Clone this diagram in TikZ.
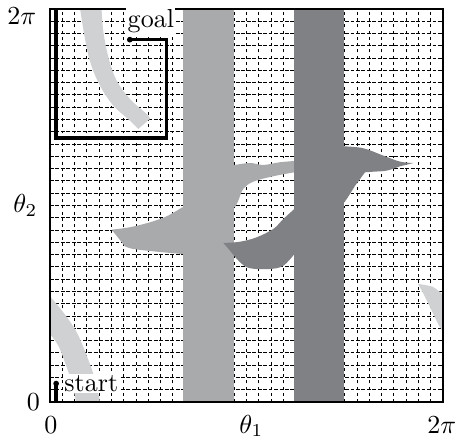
\documentclass[tikz,border=0pt]{standalone}
\usepackage{amsmath,amssymb}
\usepackage{tikz}
\usetikzlibrary{positioning}
\definecolor{obstlight}{RGB}{208,209,211}
\definecolor{obstmid}{RGB}{169,170,172}
\definecolor{obstdark}{RGB}{128,129,133}

\begin{document}
\begin{tikzpicture}[x=4.72pt, y=4.72pt,
  hgrid/.style={line width=0.35pt, dash pattern=on 1.5pt off 0.6pt},
  vgrid/.style={line width=0.35pt, dash pattern=on 1.1pt off 1.3pt},
  route/.style={line width=1.3pt},
  tag/.style={fill=white, inner sep=0.5pt},
  blob/.style={smooth, tension=0.6}]
  \useasboundingbox (-4.07,-2.85) rectangle (33.22,32.73);
  \foreach \k in {1,...,31} {
    \draw[hgrid] (0,\k) -- (32,\k);
    \draw[vgrid] (\k,0) -- (\k,32);
  }
  \fill[obstlight] plot[blob] coordinates {(2.45,32)(2.85,29.56)(3.3,27.6)(4.07,25.76)(5.16,24.13)(6.51,22.91)(7.19,22.23)}
    -- plot[blob] coordinates {(8.14,23.05)(7.87,23.45)(6.51,24.67)(5.43,26.16)(4.8,27.9)(4.35,30.1)(4.2,32)} -- cycle;
  \fill[obstlight] plot[blob] coordinates {(0,8.6)(1.08,7.3)(2.17,5.68)(2.99,3.77)(3.66,1.87)(4.07,0)}
    -- plot[blob] coordinates {(2.12,0)(1.77,1.6)(1.22,3.23)(0.68,4.58)(0,5.54)} -- cycle;
  \fill[obstlight] plot[blob] coordinates {(29.97,9.61)(31.19,9.36)(32,8.71)} -- (32,5.7)
    -- plot[blob] coordinates {(31.6,6.35)(30.62,8.39)(29.97,9.61)} -- cycle;
  \fill[obstmid] (10.8,0) rectangle (15,32);
  \fill[obstmid] (11,15.85) -- plot[blob] coordinates {(10.77,15.85)(9.5,15.12)(8.14,14.63)(6.51,14.23)(5.02,14.03)}
    -- plot[blob] coordinates {(6.1,12.68)(6.78,12.46)(8.69,12.24)(10.77,12.05)} -- (11,12.05) -- cycle;
  \fill[obstmid] (14.8,19.3) -- plot[blob] coordinates {(15.07,19.3)(16.29,19.46)(17.37,19.3)(18.73,19.52)(20.3,19.65)} -- (20.3,18.7)
    -- plot[blob] coordinates {(19.9,18.7)(18.18,18.38)(16.56,17.94)(15.74,17.35)(15.33,16.39)(15.07,15.86)} -- (14.8,15.86) -- cycle;
  \fill[obstdark] (19.9,0) rectangle (23.9,32);
  \fill[obstdark] (23.5,20.82) -- plot[blob] coordinates {(23.83,20.82)(25.5,20.66)(27.14,20.06)(28.5,19.57)(29.59,19.46)}
    -- plot[blob] coordinates {(28.5,19.19)(27.42,18.84)(26.33,18.75)(25.65,18.7)}
    -- plot[blob] coordinates {(24.84,17.61)(24.16,16.53)(23.83,16.12)} -- (23.5,16.12) -- cycle;
  \fill[obstdark] (20.3,15.72) -- plot[blob] coordinates {(19.9,15.72)(19.0,14.9)(18.18,14.09)(16.83,13.41)(15.47,13.05)(14.11,12.95)}
    -- plot[blob] coordinates {(14.66,12.32)(15.47,11.38)(16.29,10.89)(17.92,10.83)(19.0,11.1)(19.9,12.05)} -- (20.3,12.05) -- cycle;
  \draw[line width=0.75pt] (0,0) rectangle (32,32);

  \coordinate (start) at (0.5,1.5);
  \coordinate (goal) at (6.5,29.5);
  \coordinate (wrapbot) at (0.5,0);
  \coordinate (wraptop) at (0.5,32);
  \coordinate (turn) at (9.5,21.5);
  \draw[route] (start) -- (wrapbot);
  \draw[route] (wraptop) |- (turn) |- (goal);
  \fill (start) circle (1.1pt);
  \fill (goal) circle (1.1pt);
  \node[tag, right=2.5pt of start] (startlbl) {start};
  \node[tag, anchor=base west] (goallbl) at ([xshift=-1.5pt, yshift=4.7pt]goal) {goal};

  \node (twopiy) at (-2.3,31.4) {$2\pi$};
  \node (thetatwo) at (-2.0,16) {$\theta_2$};
  \node (zeroy) at (-1.35,0) {$0$};
  \node (zerox) at (0.08,-1.87) {$0$};
  \node (thetaone) at (16.4,-1.95) {$\theta_1$};
  \node (twopix) at (31.9,-1.9) {$2\pi$};
\end{tikzpicture}
\end{document}
